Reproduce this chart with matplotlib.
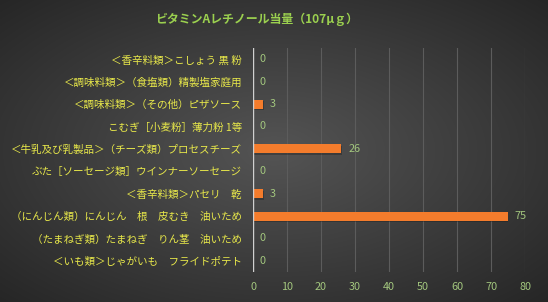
import matplotlib.pyplot as plt
import numpy as np

plt.rcParams['font.family'] = ['Noto Sans CJK JP', 'DejaVu Sans']

title = "ビタミンAレチノール当量（107μｇ）"
labels = [
    "＜香辛料類＞こしょう 黒 粉",
    "＜調味料類＞（食塩類）精製塩家庭用",
    "＜調味料類＞（その他）ピザソース",
    "こむぎ［小麦粉］薄力粉 1等",
    "＜牛乳及び乳製品＞（チーズ類）プロセスチーズ",
    "ぶた［ソーセージ類］ウインナーソーセージ",
    "＜香辛料類＞パセリ　乾",
    "（にんじん類）にんじん　根　皮むき　油いため",
    "（たまねぎ類）たまねぎ　りん茎　油いため",
    "＜いも類＞じゃがいも　フライドポテト",
]
values = [0, 0, 3, 0, 26, 0, 3, 75, 0, 0]
xticks = [0, 10, 20, 30, 40, 50, 60, 70, 80]

fig = plt.figure(figsize=(5.48, 3.02), dpi=100)

# radial gradient background
bg = fig.add_axes([0, 0, 1, 1])
gx, gy = np.meshgrid(np.linspace(-1, 1, 548), np.linspace(-1, 1, 302))
r = np.sqrt(gx**2 + gy**2) / np.sqrt(2)
shade = 0.33 - 0.18 * r
bg.imshow(np.dstack([shade, shade, shade]), aspect='auto', extent=[0, 1, 0, 1])
bg.axis('off')

ax = fig.add_axes([0.4617, 0.099, 0.4964, 0.742])
ax.patch.set_alpha(0)
y = np.arange(len(values))

# soft shadow then bars
ax.barh(y + 0.07, values, height=0.4, left=0.12, color='#1a1a1a', alpha=0.35, zorder=2)
ax.barh(y, values, height=0.4, color='#F47C2C', zorder=3)

for yi, v in zip(y, values):
    ax.text(v + 2.0, yi, str(v), va='center', ha='left', fontsize=7.8, color='#A3C77E')

ax.set_xlim(0, 80)
ax.set_ylim(len(values) - 0.5, -0.5)
ax.set_xticks(xticks)
ax.set_yticks(y)
ax.set_yticklabels(labels, fontsize=7.6, color='#E8E84A')
ax.tick_params(axis='x', colors='#A3C77E', labelsize=7.8, length=0, pad=7)
ax.tick_params(axis='y', length=0, pad=8)
ax.grid(axis='x', color='#5c5c5c', linewidth=0.8, zorder=0)
ax.axvline(0, color='#d0d0d0', linewidth=1, zorder=4)
for s in ax.spines.values():
    s.set_visible(False)

fig.text(0.469, 0.935, title, ha='center', va='center', fontsize=8.6,
         color='#9BD04F', fontweight='bold')

fig.savefig("out.png", dpi=100)
